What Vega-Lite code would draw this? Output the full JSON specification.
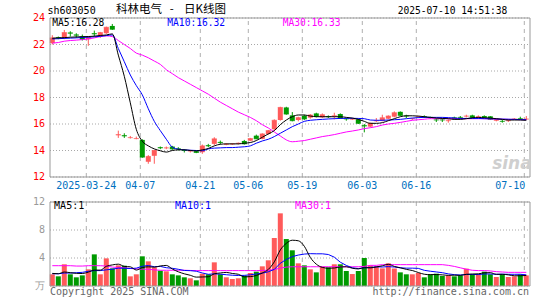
{
  "$schema": "https://vega.github.io/schema/vega-lite/v6.json",
  "width": 480,
  "height": 268,
  "autosize": "none",
  "padding": {"left": 50, "top": 18, "right": 15, "bottom": 14},
  "background": "white",
  "config": {"view": {"stroke": null}, "font": "DejaVu Sans Mono"},
  "datasets": {
    "k": [
      {"i":0,"o":22.1,"h":22.7,"l":22.0,"c":22.5,"v":1.67,"m5":22.47,"m10":22.42,"m30":22.1,"u5":1.8,"u10":1.75,"u30":2.9},
      {"i":1,"o":22.55,"h":22.6,"l":22.4,"c":22.5,"v":1.38,"m5":22.5,"m10":22.44,"m30":22.15,"u5":1.75,"u10":1.75,"u30":2.9},
      {"i":2,"o":22.5,"h":23.1,"l":22.4,"c":22.9,"v":3.1,"m5":22.52,"m10":22.46,"m30":22.25,"u5":2.0,"u10":1.85,"u30":2.9},
      {"i":3,"o":22.9,"h":23.0,"l":22.6,"c":22.85,"v":1.67,"m5":22.55,"m10":22.48,"m30":22.3,"u5":1.9,"u10":1.85,"u30":2.9},
      {"i":4,"o":22.75,"h":22.85,"l":22.5,"c":22.7,"v":1.24,"m5":22.57,"m10":22.5,"m30":22.33,"u5":1.81,"u10":1.9,"u30":2.85},
      {"i":5,"o":22.6,"h":22.75,"l":22.3,"c":22.4,"v":1.52,"m5":22.59,"m10":22.53,"m30":22.37,"u5":1.78,"u10":1.95,"u30":2.85},
      {"i":6,"o":22.4,"h":22.6,"l":21.9,"c":22.55,"v":2.38,"m5":22.6,"m10":22.55,"m30":22.42,"u5":1.98,"u10":2.1,"u30":2.9},
      {"i":7,"o":22.85,"h":23.05,"l":22.6,"c":22.8,"v":4.52,"m5":22.63,"m10":22.58,"m30":22.5,"u5":2.27,"u10":2.2,"u30":2.9},
      {"i":8,"o":22.65,"h":22.95,"l":22.5,"c":22.9,"v":1.67,"m5":22.68,"m10":22.62,"m30":22.6,"u5":2.27,"u10":2.2,"u30":2.9},
      {"i":9,"o":22.85,"h":23.35,"l":22.8,"c":23.3,"v":3.95,"m5":22.72,"m10":22.67,"m30":22.65,"u5":2.81,"u10":2.31,"u30":2.85},
      {"i":10,"o":23.4,"h":23.55,"l":23.1,"c":23.15,"v":2.52,"m5":22.8,"m10":22.72,"m30":22.6,"u5":3.01,"u10":2.4,"u30":2.7},
      {"i":11,"o":15.15,"h":15.5,"l":14.95,"c":15.2,"v":2.95,"m5":21.2,"m10":21.7,"m30":22.3,"u5":3.12,"u10":2.55,"u30":2.65},
      {"i":12,"o":15.15,"h":15.3,"l":14.95,"c":15.1,"v":2.9,"m5":19.6,"m10":20.7,"m30":22.0,"u5":2.8,"u10":2.53,"u30":2.6},
      {"i":13,"o":14.95,"h":15.1,"l":14.9,"c":14.97,"v":1.38,"m5":17.6,"m10":19.7,"m30":21.7,"u5":2.74,"u10":2.5,"u30":2.5},
      {"i":14,"o":14.88,"h":15.05,"l":14.85,"c":14.9,"v":1.67,"m5":15.6,"m10":18.9,"m30":21.35,"u5":2.28,"u10":2.55,"u30":2.45},
      {"i":15,"o":14.8,"h":14.85,"l":13.45,"c":13.5,"v":4.24,"m5":14.7,"m10":18.2,"m30":21.2,"u5":2.63,"u10":2.82,"u30":2.4},
      {"i":16,"o":13.15,"h":13.65,"l":13.0,"c":13.55,"v":3.52,"m5":14.35,"m10":17.15,"m30":21.0,"u5":2.74,"u10":2.93,"u30":2.4},
      {"i":17,"o":13.6,"h":14.05,"l":13.0,"c":14.0,"v":2.67,"m5":14.12,"m10":16.2,"m30":20.75,"u5":2.7,"u10":2.75,"u30":2.3},
      {"i":18,"o":14.25,"h":14.3,"l":14.1,"c":14.2,"v":2.19,"m5":13.98,"m10":15.5,"m30":20.5,"u5":2.86,"u10":2.8,"u30":2.25},
      {"i":19,"o":14.18,"h":14.3,"l":14.1,"c":14.2,"v":2.1,"m5":13.88,"m10":14.85,"m30":20.1,"u5":2.94,"u10":2.61,"u30":2.25},
      {"i":20,"o":14.3,"h":14.35,"l":14.05,"c":14.12,"v":1.67,"m5":14.0,"m10":14.25,"m30":19.8,"u5":2.43,"u10":2.53,"u30":2.25},
      {"i":21,"o":14.15,"h":14.25,"l":14.0,"c":14.12,"v":1.52,"m5":14.05,"m10":14.1,"m30":19.5,"u5":2.03,"u10":2.39,"u30":2.25},
      {"i":22,"o":14.05,"h":14.1,"l":13.85,"c":14.0,"v":1.24,"m5":14.05,"m10":14.05,"m30":19.25,"u5":1.74,"u10":2.22,"u30":2.25},
      {"i":23,"o":13.95,"h":14.05,"l":13.85,"c":13.97,"v":1.1,"m5":14.0,"m10":14.02,"m30":19.0,"u5":1.53,"u10":2.19,"u30":2.22},
      {"i":24,"o":13.95,"h":14.0,"l":13.8,"c":13.85,"v":0.81,"m5":13.97,"m10":14.0,"m30":18.75,"u5":1.27,"u10":2.11,"u30":2.2},
      {"i":25,"o":13.87,"h":14.45,"l":13.75,"c":14.35,"v":1.76,"m5":14.05,"m10":13.98,"m30":18.5,"u5":1.29,"u10":1.86,"u30":2.2},
      {"i":26,"o":14.4,"h":14.5,"l":14.25,"c":14.35,"v":1.67,"m5":14.15,"m10":14.12,"m30":18.25,"u5":1.32,"u10":1.67,"u30":2.2},
      {"i":27,"o":14.5,"h":15.0,"l":14.4,"c":14.88,"v":3.38,"m5":14.35,"m10":14.18,"m30":17.95,"u5":1.74,"u10":1.74,"u30":2.2},
      {"i":28,"o":14.65,"h":14.75,"l":14.45,"c":14.6,"v":1.67,"m5":14.47,"m10":14.2,"m30":17.65,"u5":1.86,"u10":1.69,"u30":2.2},
      {"i":29,"o":14.45,"h":14.55,"l":14.4,"c":14.48,"v":1.24,"m5":14.5,"m10":14.22,"m30":17.4,"u5":1.94,"u10":1.61,"u30":2.2},
      {"i":30,"o":14.48,"h":14.55,"l":14.42,"c":14.5,"v":1.0,"m5":14.5,"m10":14.22,"m30":17.15,"u5":1.79,"u10":1.54,"u30":2.2},
      {"i":31,"o":14.52,"h":14.6,"l":14.45,"c":14.55,"v":1.1,"m5":14.5,"m10":14.25,"m30":16.9,"u5":1.68,"u10":1.5,"u30":2.2},
      {"i":32,"o":14.72,"h":14.8,"l":14.45,"c":14.5,"v":1.48,"m5":14.55,"m10":14.28,"m30":16.7,"u5":1.3,"u10":1.52,"u30":2.2},
      {"i":33,"o":14.74,"h":14.95,"l":14.7,"c":14.9,"v":1.86,"m5":14.6,"m10":14.35,"m30":16.5,"u5":1.34,"u10":1.6,"u30":2.2},
      {"i":34,"o":15.12,"h":15.2,"l":14.85,"c":14.88,"v":2.05,"m5":14.75,"m10":14.55,"m30":16.25,"u5":1.5,"u10":1.72,"u30":2.2},
      {"i":35,"o":14.88,"h":15.3,"l":14.85,"c":15.25,"v":2.81,"m5":15.0,"m10":14.72,"m30":15.95,"u5":1.86,"u10":1.83,"u30":2.22},
      {"i":36,"o":15.25,"h":15.55,"l":15.2,"c":15.5,"v":3.67,"m5":15.25,"m10":14.85,"m30":15.7,"u5":2.37,"u10":2.03,"u30":2.25},
      {"i":37,"o":15.6,"h":16.35,"l":15.5,"c":16.28,"v":6.86,"m5":15.5,"m10":15.05,"m30":15.4,"u5":3.45,"u10":2.37,"u30":2.35},
      {"i":38,"o":16.3,"h":17.3,"l":16.25,"c":17.25,"v":10.38,"m5":15.95,"m10":15.3,"m30":15.1,"u5":5.15,"u10":3.25,"u30":2.55},
      {"i":39,"o":17.25,"h":17.3,"l":16.7,"c":16.75,"v":6.71,"m5":16.3,"m10":15.55,"m30":14.8,"u5":6.09,"u10":3.79,"u30":2.7},
      {"i":40,"o":16.65,"h":16.9,"l":16.2,"c":16.25,"v":5.1,"m5":16.55,"m10":15.8,"m30":14.66,"u5":6.54,"u10":4.2,"u30":2.75},
      {"i":41,"o":16.3,"h":16.55,"l":16.2,"c":16.48,"v":3.24,"m5":16.68,"m10":16.0,"m30":14.7,"u5":6.46,"u10":4.42,"u30":2.75},
      {"i":42,"o":16.62,"h":16.7,"l":16.3,"c":16.38,"v":2.95,"m5":16.68,"m10":16.2,"m30":14.75,"u5":5.68,"u10":4.56,"u30":2.75},
      {"i":43,"o":16.48,"h":16.75,"l":16.4,"c":16.68,"v":2.38,"m5":16.6,"m10":16.28,"m30":14.85,"u5":4.08,"u10":4.62,"u30":2.75},
      {"i":44,"o":16.8,"h":16.85,"l":16.5,"c":16.58,"v":1.95,"m5":16.55,"m10":16.32,"m30":14.95,"u5":3.12,"u10":4.6,"u30":2.75},
      {"i":45,"o":16.5,"h":16.8,"l":16.45,"c":16.7,"v":2.76,"m5":16.55,"m10":16.35,"m30":15.05,"u5":2.66,"u10":4.6,"u30":2.75},
      {"i":46,"o":16.58,"h":16.65,"l":16.45,"c":16.55,"v":2.67,"m5":16.55,"m10":16.38,"m30":15.12,"u5":2.54,"u10":4.5,"u30":2.75},
      {"i":47,"o":16.58,"h":16.85,"l":16.35,"c":16.62,"v":3.1,"m5":16.55,"m10":16.4,"m30":15.2,"u5":2.57,"u10":4.12,"u30":2.75},
      {"i":48,"o":16.75,"h":16.8,"l":16.4,"c":16.45,"v":3.1,"m5":16.55,"m10":16.42,"m30":15.3,"u5":2.72,"u10":3.4,"u30":2.75},
      {"i":49,"o":16.4,"h":16.45,"l":16.25,"c":16.38,"v":2.14,"m5":16.5,"m10":16.43,"m30":15.4,"u5":2.75,"u10":2.94,"u30":2.75},
      {"i":50,"o":16.35,"h":16.45,"l":16.3,"c":16.38,"v":1.71,"m5":16.45,"m10":16.43,"m30":15.47,"u5":2.54,"u10":2.6,"u30":2.75},
      {"i":51,"o":16.35,"h":16.4,"l":16.0,"c":16.05,"v":2.14,"m5":16.35,"m10":16.42,"m30":15.55,"u5":2.44,"u10":2.49,"u30":2.75},
      {"i":52,"o":15.9,"h":16.0,"l":15.37,"c":15.85,"v":4.0,"m5":16.2,"m10":16.4,"m30":15.65,"u5":2.62,"u10":2.6,"u30":2.8},
      {"i":53,"o":15.8,"h":16.1,"l":15.75,"c":16.05,"v":2.95,"m5":16.05,"m10":16.3,"m30":15.72,"u5":2.59,"u10":2.65,"u30":2.95},
      {"i":54,"o":16.22,"h":16.45,"l":16.15,"c":16.25,"v":2.81,"m5":16.05,"m10":16.28,"m30":15.8,"u5":2.72,"u10":2.74,"u30":2.95},
      {"i":55,"o":16.25,"h":16.7,"l":16.2,"c":16.47,"v":2.52,"m5":16.1,"m10":16.28,"m30":15.92,"u5":2.88,"u10":2.71,"u30":3.05},
      {"i":56,"o":16.4,"h":16.65,"l":16.35,"c":16.6,"v":3.24,"m5":16.25,"m10":16.3,"m30":16.0,"u5":3.1,"u10":2.77,"u30":3.05},
      {"i":57,"o":16.55,"h":16.95,"l":16.5,"c":16.85,"v":2.5,"m5":16.4,"m10":16.32,"m30":16.05,"u5":2.8,"u10":2.71,"u30":3.05},
      {"i":58,"o":16.92,"h":16.95,"l":16.6,"c":16.65,"v":1.95,"m5":16.55,"m10":16.35,"m30":16.12,"u5":2.6,"u10":2.6,"u30":3.05},
      {"i":59,"o":16.62,"h":16.7,"l":16.45,"c":16.6,"v":1.67,"m5":16.62,"m10":16.4,"m30":16.2,"u5":2.38,"u10":2.55,"u30":3.05},
      {"i":60,"o":16.38,"h":16.45,"l":16.3,"c":16.4,"v":1.67,"m5":16.62,"m10":16.45,"m30":16.28,"u5":2.21,"u10":2.55,"u30":3.05},
      {"i":61,"o":16.53,"h":16.6,"l":16.45,"c":16.55,"v":1.86,"m5":16.6,"m10":16.48,"m30":16.32,"u5":1.93,"u10":2.52,"u30":3.05},
      {"i":62,"o":16.57,"h":16.65,"l":16.45,"c":16.55,"v":1.24,"m5":16.55,"m10":16.5,"m30":16.36,"u5":1.68,"u10":2.24,"u30":3.05},
      {"i":63,"o":16.52,"h":16.55,"l":16.4,"c":16.5,"v":1.67,"m5":16.5,"m10":16.5,"m30":16.4,"u5":1.62,"u10":2.11,"u30":3.05},
      {"i":64,"o":16.32,"h":16.45,"l":16.15,"c":16.3,"v":1.76,"m5":16.45,"m10":16.5,"m30":16.4,"u5":1.64,"u10":2.01,"u30":3.05},
      {"i":65,"o":16.32,"h":16.45,"l":16.15,"c":16.3,"v":1.43,"m5":16.42,"m10":16.5,"m30":16.4,"u5":1.59,"u10":1.9,"u30":3.05},
      {"i":66,"o":16.23,"h":16.35,"l":16.1,"c":16.25,"v":1.52,"m5":16.4,"m10":16.48,"m30":16.4,"u5":1.52,"u10":1.73,"u30":2.95},
      {"i":67,"o":16.5,"h":16.55,"l":16.35,"c":16.38,"v":1.38,"m5":16.35,"m10":16.45,"m30":16.4,"u5":1.55,"u10":1.62,"u30":2.8},
      {"i":68,"o":16.52,"h":16.6,"l":16.4,"c":16.5,"v":1.52,"m5":16.35,"m10":16.42,"m30":16.4,"u5":1.52,"u10":1.57,"u30":2.6},
      {"i":69,"o":16.58,"h":16.7,"l":16.5,"c":16.6,"v":2.48,"m5":16.4,"m10":16.42,"m30":16.4,"u5":1.67,"u10":1.65,"u30":2.4},
      {"i":70,"o":16.65,"h":16.7,"l":16.45,"c":16.5,"v":1.67,"m5":16.47,"m10":16.42,"m30":16.4,"u5":1.71,"u10":1.65,"u30":2.25},
      {"i":71,"o":16.53,"h":16.65,"l":16.45,"c":16.55,"v":1.67,"m5":16.5,"m10":16.42,"m30":16.4,"u5":1.74,"u10":1.63,"u30":2.2},
      {"i":72,"o":16.6,"h":16.65,"l":16.45,"c":16.5,"v":2.05,"m5":16.47,"m10":16.4,"m30":16.4,"u5":1.88,"u10":1.72,"u30":2.2},
      {"i":73,"o":16.58,"h":16.6,"l":16.3,"c":16.35,"v":1.67,"m5":16.45,"m10":16.4,"m30":16.38,"u5":1.91,"u10":1.72,"u30":2.15},
      {"i":74,"o":16.25,"h":16.4,"l":16.2,"c":16.35,"v":1.29,"m5":16.4,"m10":16.38,"m30":16.37,"u5":1.67,"u10":1.67,"u30":2.05},
      {"i":75,"o":16.22,"h":16.3,"l":16.1,"c":16.2,"v":1.67,"m5":16.35,"m10":16.37,"m30":16.36,"u5":1.67,"u10":1.69,"u30":2.0},
      {"i":76,"o":16.23,"h":16.35,"l":16.15,"c":16.25,"v":1.29,"m5":16.3,"m10":16.36,"m30":16.35,"u5":1.59,"u10":1.67,"u30":1.95},
      {"i":77,"o":16.36,"h":16.45,"l":16.3,"c":16.38,"v":1.38,"m5":16.3,"m10":16.35,"m30":16.34,"u5":1.46,"u10":1.67,"u30":1.95},
      {"i":78,"o":16.42,"h":16.55,"l":16.35,"c":16.4,"v":1.67,"m5":16.3,"m10":16.33,"m30":16.33,"u5":1.46,"u10":1.68,"u30":1.95},
      {"i":79,"o":16.36,"h":16.6,"l":16.3,"c":16.38,"v":1.52,"m5":16.28,"m10":16.32,"m30":16.33,"u5":1.51,"u10":1.59,"u30":1.95}
    ],
    "ticks": [
      {"i":6,"d":"2025-03-24"},{"i":15,"d":"04-07"},{"i":25,"d":"04-21"},{"i":33,"d":"05-06"},
      {"i":42,"d":"05-19"},{"i":52,"d":"06-03"},{"i":61,"d":"06-16"},{"i":79,"d":"07-10"}
    ],
    "plev": [{"p":12},{"p":14},{"p":16},{"p":18},{"p":20},{"p":22},{"p":24}],
    "vlev": [{"q":0,"t":"万"},{"q":4,"t":"4"},{"q":8,"t":"8"},{"q":12,"t":"12"}]
  },
  "resolve": {"scale": {"y": "independent"}},
  "layer": [
    {
      "data": {"name": "k"},
      "layer": [
        {
          "data": {"name": "plev"},
          "mark": {"type": "rule", "color": "#a8a8a8", "strokeDash": [1, 2], "strokeWidth": 1},
          "encoding": {
            "x": {"datum": -0.383, "type": "quantitative", "scale": {"domain": [-0.383, 79.617], "nice": false, "zero": false, "padding": 0}, "axis": null},
            "x2": {"datum": 79.617},
            "y": {"field": "p", "type": "quantitative", "scale": {"domain": [12, 24], "range": [159, 0], "nice": false, "zero": false, "padding": 0}, "axis": null}
          }
        },
        {
          "data": {"name": "plev"},
          "mark": {"type": "text", "color": "#ff0000", "font": "DejaVu Sans Mono", "fontSize": 10, "align": "right", "baseline": "middle", "xOffset": -5},
          "encoding": {
            "x": {"datum": -0.383, "type": "quantitative"},
            "y": {"field": "p", "type": "quantitative", "axis": null},
            "text": {"field": "p"}
          }
        },
        {
          "data": {"name": "ticks"},
          "mark": {"type": "rule", "color": "#b0b0b0", "strokeDash": [4, 4], "xOffset": -2},
          "encoding": {
            "x": {"field": "i", "type": "quantitative"},
            "y": {"datum": 12, "type": "quantitative", "axis": null},
            "y2": {"datum": 24}
          }
        },
        {
          "mark": {"type": "rule", "strokeWidth": 1},
          "encoding": {
            "x": {"field": "i", "type": "quantitative"},
            "y": {"field": "l", "type": "quantitative", "axis": null},
            "y2": {"field": "h"},
            "color": {"condition": {"test": "datum.c >= datum.o", "value": "#ff5a5a"}, "value": "#009a00"}
          }
        },
        {
          "mark": {"type": "bar", "size": 5},
          "encoding": {
            "x": {"field": "i", "type": "quantitative"},
            "y": {"field": "o", "type": "quantitative", "axis": null},
            "y2": {"field": "c"},
            "color": {"condition": {"test": "datum.c >= datum.o", "value": "#ff5a5a"}, "value": "#009a00"}
          }
        },
        {
          "mark": {"type": "tick", "orient": "horizontal", "size": 5, "thickness": 1},
          "encoding": {
            "x": {"field": "i", "type": "quantitative"},
            "y": {"field": "c", "type": "quantitative", "axis": null},
            "color": {"condition": {"test": "datum.c >= datum.o", "value": "#ff5a5a"}, "value": "#009a00"}
          }
        },
        {
          "mark": {"type": "line", "color": "#ff00ff", "strokeWidth": 1, "interpolate": "monotone"},
          "encoding": {"x": {"field": "i", "type": "quantitative"}, "y": {"field": "m30", "type": "quantitative", "axis": null}}
        },
        {
          "mark": {"type": "line", "color": "#0000ff", "strokeWidth": 1, "interpolate": "monotone"},
          "encoding": {"x": {"field": "i", "type": "quantitative"}, "y": {"field": "m10", "type": "quantitative", "axis": null}}
        },
        {
          "mark": {"type": "line", "color": "#000000", "strokeWidth": 1, "interpolate": "monotone"},
          "encoding": {"x": {"field": "i", "type": "quantitative"}, "y": {"field": "m5", "type": "quantitative", "axis": null}}
        },
        {
          "data": {"values": [{}]},
          "mark": {"type": "rect", "fill": null, "fillOpacity": 0, "stroke": "#999999", "strokeWidth": 1},
          "encoding": {
            "x": {"datum": -0.383, "type": "quantitative"}, "x2": {"datum": 79.617},
            "y": {"datum": 12, "type": "quantitative", "axis": null}, "y2": {"datum": 24}
          }
        },
        {
          "data": {"name": "ticks"},
          "transform": [{"filter": "datum.i < 79"}],
          "mark": {"type": "text", "color": "#0070c0", "font": "DejaVu Sans Mono", "fontSize": 10, "align": "center", "baseline": "middle", "xOffset": -2},
          "encoding": {
            "x": {"field": "i", "type": "quantitative"},
            "y": {"datum": 11.32, "type": "quantitative", "axis": null},
            "text": {"field": "d"}
          }
        },
        {
          "data": {"name": "ticks"},
          "transform": [{"filter": "datum.i == 79"}],
          "mark": {"type": "text", "color": "#0070c0", "font": "DejaVu Sans Mono", "fontSize": 10, "align": "right", "baseline": "middle", "xOffset": -1},
          "encoding": {
            "x": {"field": "i", "type": "quantitative"},
            "y": {"datum": 11.32, "type": "quantitative", "axis": null},
            "text": {"field": "d"}
          }
        },
        {
          "data": {"values": [{}]},
          "mark": {"type": "text", "text": "sh603050", "color": "#000000", "font": "DejaVu Sans Mono", "fontSize": 10, "align": "left", "baseline": "middle"},
          "encoding": {"x": {"datum": -0.8, "type": "quantitative"}, "y": {"datum": 24.53, "type": "quantitative", "axis": null}}
        },
        {
          "data": {"values": [{}]},
          "mark": {"type": "text", "text": "科林电气\u00a0\u00a0\u00a0-\u00a0\u00a0\u00a0\u00a0日K线图", "color": "#000000", "font": "Noto Sans CJK SC", "fontSize": 11.5, "align": "center", "baseline": "middle"},
          "encoding": {"x": {"datum": 19.78, "type": "quantitative"}, "y": {"datum": 24.62, "type": "quantitative", "axis": null}}
        },
        {
          "data": {"values": [{}]},
          "mark": {"type": "text", "text": "2025-07-10 14:51:38", "color": "#000000", "font": "DejaVu Sans Mono", "fontSize": 9.6, "align": "right", "baseline": "middle"},
          "encoding": {"x": {"datum": 75.85, "type": "quantitative"}, "y": {"datum": 24.5, "type": "quantitative", "axis": null}}
        },
        {
          "data": {"values": [{}]},
          "mark": {"type": "text", "text": "MA5:16.28", "color": "#000000", "font": "DejaVu Sans Mono", "fontSize": 9.6, "align": "left", "baseline": "middle"},
          "encoding": {"x": {"datum": 0, "type": "quantitative"}, "y": {"datum": 23.6, "type": "quantitative", "axis": null}}
        },
        {
          "data": {"values": [{}]},
          "mark": {"type": "text", "text": "MA10:16.32", "color": "#0000ff", "font": "DejaVu Sans Mono", "fontSize": 9.6, "align": "left", "baseline": "middle"},
          "encoding": {"x": {"datum": 19.17, "type": "quantitative"}, "y": {"datum": 23.6, "type": "quantitative", "axis": null}}
        },
        {
          "data": {"values": [{}]},
          "mark": {"type": "text", "text": "MA30:16.33", "color": "#ff00ff", "font": "DejaVu Sans Mono", "fontSize": 9.6, "align": "left", "baseline": "middle"},
          "encoding": {"x": {"datum": 38.4, "type": "quantitative"}, "y": {"datum": 23.6, "type": "quantitative", "axis": null}}
        },
        {
          "data": {"values": [{}]},
          "mark": {"type": "text", "text": "sina", "color": "#cfcfcf", "font": "DejaVu Sans", "fontSize": 17, "fontStyle": "italic", "fontWeight": "bold", "align": "center", "baseline": "middle"},
          "encoding": {"x": {"datum": 76.6, "type": "quantitative"}, "y": {"datum": 12.95, "type": "quantitative", "axis": null}}
        }
      ]
    },
    {
      "data": {"name": "k"},
      "layer": [
        {
          "data": {"name": "vlev"},
          "mark": {"type": "rule", "color": "#a8a8a8", "strokeDash": [1, 2], "strokeWidth": 1},
          "encoding": {
            "x": {"datum": -0.383, "type": "quantitative"},
            "x2": {"datum": 79.617},
            "y": {"field": "q", "type": "quantitative", "scale": {"domain": [0, 12], "range": [268, 184], "nice": false, "zero": false, "padding": 0}, "axis": null}
          }
        },
        {
          "data": {"name": "vlev"},
          "mark": {"type": "text", "color": "#999999", "font": "DejaVu Sans Mono", "fontSize": 10, "align": "right", "baseline": "middle", "xOffset": -5},
          "encoding": {
            "x": {"datum": -0.383, "type": "quantitative"},
            "y": {"field": "q", "type": "quantitative", "axis": null},
            "text": {"field": "t"}
          }
        },
        {
          "data": {"name": "ticks"},
          "mark": {"type": "rule", "color": "#b0b0b0", "strokeDash": [4, 4], "xOffset": -2},
          "encoding": {
            "x": {"field": "i", "type": "quantitative"},
            "y": {"datum": 0, "type": "quantitative", "axis": null},
            "y2": {"datum": 12}
          }
        },
        {
          "mark": {"type": "bar", "size": 5},
          "encoding": {
            "x": {"field": "i", "type": "quantitative"},
            "y": {"field": "v", "type": "quantitative", "axis": null},
            "color": {"condition": {"test": "datum.c >= datum.o", "value": "#ff5a5a"}, "value": "#009a00"}
          }
        },
        {
          "mark": {"type": "line", "color": "#ff00ff", "strokeWidth": 1},
          "encoding": {"x": {"field": "i", "type": "quantitative"}, "y": {"field": "u30", "type": "quantitative", "axis": null}}
        },
        {
          "mark": {"type": "line", "color": "#0000ff", "strokeWidth": 1},
          "encoding": {"x": {"field": "i", "type": "quantitative"}, "y": {"field": "u10", "type": "quantitative", "axis": null}}
        },
        {
          "mark": {"type": "line", "color": "#000000", "strokeWidth": 1, "interpolate": "monotone"},
          "encoding": {"x": {"field": "i", "type": "quantitative"}, "y": {"field": "u5", "type": "quantitative", "axis": null}}
        },
        {
          "data": {"values": [{}]},
          "mark": {"type": "rect", "fill": null, "fillOpacity": 0, "stroke": "#999999", "strokeWidth": 1},
          "encoding": {
            "x": {"datum": -0.383, "type": "quantitative"}, "x2": {"datum": 79.617},
            "y": {"datum": 0, "type": "quantitative", "axis": null}, "y2": {"datum": 12}
          }
        },
        {
          "data": {"values": [{}]},
          "mark": {"type": "text", "text": "MA5:1", "color": "#000000", "font": "DejaVu Sans Mono", "fontSize": 10, "align": "left", "baseline": "middle"},
          "encoding": {"x": {"datum": 0.3, "type": "quantitative"}, "y": {"datum": 11.43, "type": "quantitative", "axis": null}}
        },
        {
          "data": {"values": [{}]},
          "mark": {"type": "text", "text": "MA10:1", "color": "#0000ff", "font": "DejaVu Sans Mono", "fontSize": 10, "align": "left", "baseline": "middle"},
          "encoding": {"x": {"datum": 20.45, "type": "quantitative"}, "y": {"datum": 11.43, "type": "quantitative", "axis": null}}
        },
        {
          "data": {"values": [{}]},
          "mark": {"type": "text", "text": "MA30:1", "color": "#ff00ff", "font": "DejaVu Sans Mono", "fontSize": 10, "align": "left", "baseline": "middle"},
          "encoding": {"x": {"datum": 40.45, "type": "quantitative"}, "y": {"datum": 11.43, "type": "quantitative", "axis": null}}
        },
        {
          "data": {"values": [{}]},
          "mark": {"type": "text", "text": "Copyright 2025 SINA.COM", "color": "#666666", "font": "DejaVu Sans Mono", "fontSize": 10, "align": "left", "baseline": "middle"},
          "encoding": {"x": {"datum": -0.38, "type": "quantitative"}, "y": {"datum": -0.86, "type": "quantitative", "axis": null}}
        },
        {
          "data": {"values": [{}]},
          "mark": {"type": "text", "text": "http://finance.sina.com.cn", "color": "#666666", "font": "DejaVu Sans Mono", "fontSize": 10, "align": "right", "baseline": "middle"},
          "encoding": {"x": {"datum": 79.45, "type": "quantitative"}, "y": {"datum": -0.86, "type": "quantitative", "axis": null}}
        }
      ]
    }
  ]
}
